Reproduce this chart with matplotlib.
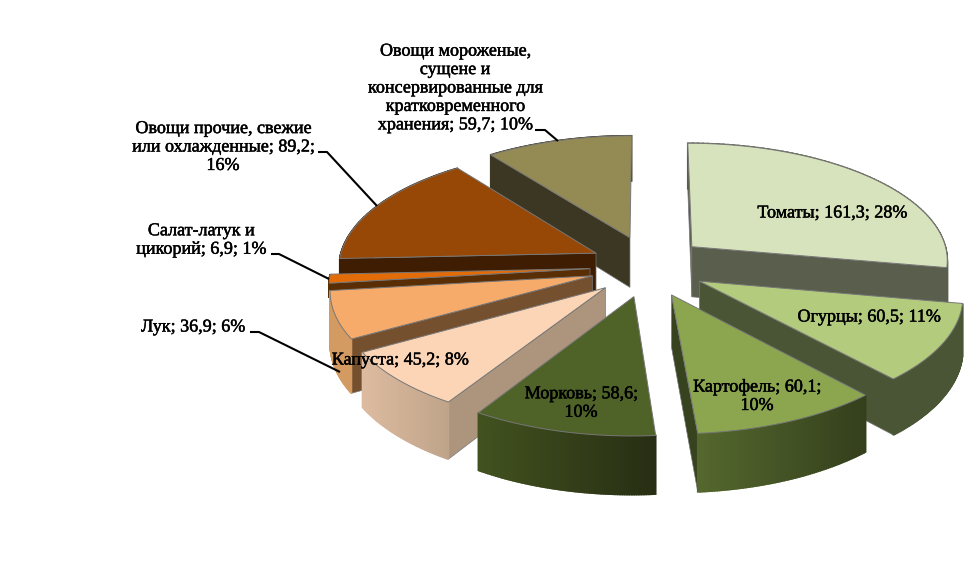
import numpy as np
import matplotlib
matplotlib.use("Agg")
import matplotlib.pyplot as plt
import matplotlib.patheffects as pe
from matplotlib.colors import to_rgb

# данные диаграммы
categories = ["Томаты", "Огурцы", "Картофель", "Морковь", "Капуста", "Лук",
              "Салат-латук и\nцикорий", "Овощи прочие, свежие\nили охлажденные",
              "Овощи мороженые,\nсущене и\nконсервированные для\nкратковременного\nхранения"]
values = [161.3, 60.5, 60.1, 58.6, 45.2, 36.9, 6.9, 89.2, 59.7]
percents = [28, 11, 10, 10, 8, 6, 1, 16, 10]
value_strings = ["161,3", "60,5", "60,1", "58,6", "45,2", "36,9", "6,9", "89,2", "59,7"]
pct_breaks = [False, False, True, True, False, False, False, True, False]

# цвета: верх, боковая грань, внешняя стенка слева и справа
top_colors = ["#D7E3BC", "#B3CB7D", "#8BA64F", "#4F6228", "#FBD5B5", "#F6AB6B", "#E36C09", "#974806", "#948A54"]
side_colors = ["#5A5E4C", "#4A5536", "#37431E", "#3A4A1E", "#AD957D", "#75502F", "#5A2E05", "#3E1D02", "#3C3722"]
wall_left = ["#5A5E4C", "#4A5536", "#55682E", "#42521F", "#DDBBA0", "#D39A62", "#5A2E05", "#3E1D02", "#3C3722"]
wall_right = ["#5A5E4C", "#4A5536", "#343F1C", "#272E13", "#BFA48A", "#D39A62", "#5A2E05", "#3E1D02", "#3C3722"]

# подписи: центр текста и выноски в пикселях
label_pos = [(832, 213), (869, 317), (757, 396), (581, 403), (400, 360), (193, 327), (201, 240), (223, 147), (455, 88)]
leaders = [None, None, None, None, None,
           [(250, 332), (259, 332), (340, 372)],
           [(271, 254), (279, 254), (329, 279)],
           [(318, 152), (327, 152), (377, 206)],
           [(535, 130), (545, 130), (558, 141)]]

cx, cy = 648, 266
rx, ry = 258, 118
persp = 0.104
depth = 51
explode_x, explode_y = 0.225, 0.26
# у салата видна только узкая полоса стенки, остальное закрыто луком
depth_frac = [1, 1, 1, 1, 1, 1, 0.28, 1, 1]


def project(u, v, z=0):
    s = 1 / (1 + persp * v)
    return cx + rx * u * s, cy - ry * v * s + z * depth * s


fig = plt.figure(figsize=(9.75, 5.88), dpi=100)
ax = fig.add_axes([0, 0, 1, 1])
ax.set_xlim(0, 975)
ax.set_ylim(588, 0)
ax.axis("off")

vals = np.array(values)
edges = np.concatenate([[0], np.cumsum(vals) / vals.sum() * 2 * np.pi])
mids = (edges[:-1] + edges[1:]) / 2

# рисуем от дальних секторов к ближним
for i in np.argsort(-np.cos(mids)):
    ou, ov = explode_x * np.sin(mids[i]), explode_y * np.cos(mids[i])
    t = np.linspace(edges[i], edges[i + 1], 80)
    rim_u, rim_v = ou + np.sin(t), ov + np.cos(t)
    top = np.array(project(rim_u, rim_v)).T
    bottom = np.array(project(rim_u, rim_v, depth_frac[i])).T
    apex_top = project(ou, ov)
    apex_bottom = project(ou, ov, depth_frac[i])

    # боковая грань видна, только если смещение вниз уходит наружу сектора
    mid_pt = top[len(t) // 2]
    for k in (0, -1):
        ex, ey = top[k, 0] - apex_top[0], top[k, 1] - apex_top[1]
        inner = ex * (mid_pt[1] - apex_top[1]) - ey * (mid_pt[0] - apex_top[0])
        if ex * inner > 0 or abs(ex) < 3:
            continue
        ax.fill([apex_top[0], top[k, 0], bottom[k, 0], apex_bottom[0]],
                [apex_top[1], top[k, 1], bottom[k, 1], apex_bottom[1]],
                fc=side_colors[i], ec="#777777", lw=0.5)

    c0, c1 = np.array(to_rgb(wall_left[i])), np.array(to_rgb(wall_right[i]))
    xmin, xmax = top[:, 0].min(), top[:, 0].max()
    for k in range(len(t) - 1):
        f = (top[k, 0] - xmin) / (xmax - xmin)
        col = c0 + (c1 - c0) * f
        ax.fill([top[k, 0], top[k + 1, 0], bottom[k + 1, 0], bottom[k, 0]],
                [top[k, 1], top[k + 1, 1], bottom[k + 1, 1], bottom[k, 1]],
                fc=col, ec=col, lw=1.2)

    ax.fill([apex_top[0], *top[:, 0]], [apex_top[1], *top[:, 1]],
            fc=top_colors[i], ec="#777777", lw=0.7)

for path in leaders:
    if path:
        xs, ys = zip(*path)
        ax.plot(xs, ys, color="black", lw=1.5, solid_capstyle="butt")

for cat, val, pct, brk, pos in zip(categories, value_strings, percents, pct_breaks, label_pos):
    sep = ";\n" if brk else "; "
    ax.text(pos[0], pos[1], f"{cat}; {val}{sep}{pct}%", ha="center", va="center",
            family="Liberation Serif", fontsize=13, linespacing=1.11, color="black",
            path_effects=[pe.withStroke(linewidth=0.35, foreground="black")])

fig.savefig("out.png", dpi=100, facecolor="white")
